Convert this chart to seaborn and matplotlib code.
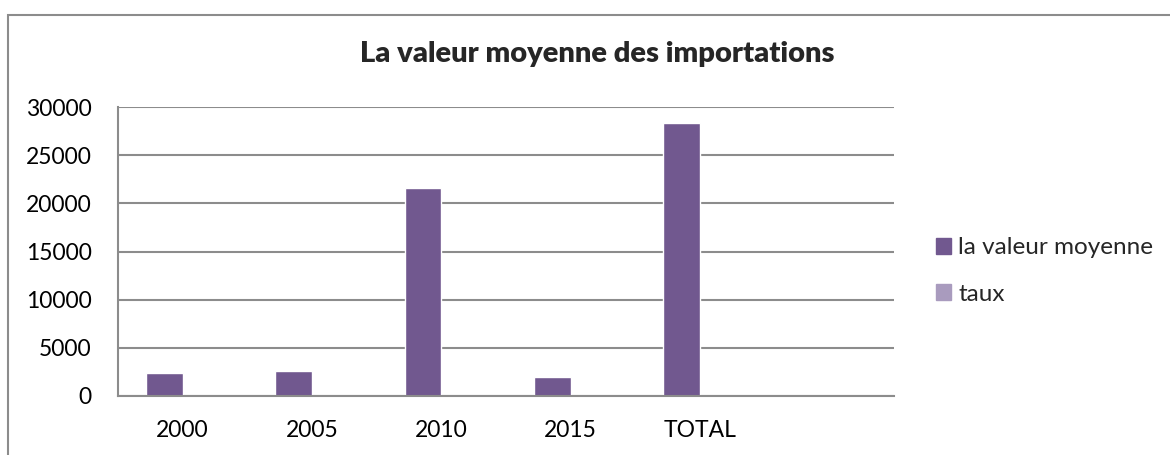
import pandas as pd
import numpy as np
import matplotlib
matplotlib.use("Agg")
import matplotlib.pyplot as plt
import matplotlib.patches as mpatches
import seaborn as sns

# données
annees = ["2000", "2005", "2010", "2015", "TOTAL"]
valeur_moyenne = [2360, 2570, 21600, 1970, 28330]
taux = [0, 0, 0, 0, 0]  # trop petit pour etre visible
series = ["la valeur moyenne", "taux"]
couleurs = ["#71588F", "#A99BBE"]
y_ticks = [0, 5000, 10000, 15000, 20000, 25000, 30000]

df = pd.DataFrame({
    "annee": annees * 2,
    "valeur": valeur_moyenne + taux,
    "serie": [series[0]] * len(annees) + [series[1]] * len(annees),
})

sns.set_style("white")
plt.rcParams["font.family"] = ["Lato", "DejaVu Sans"]

W, H = 1170, 455
fig = plt.figure(figsize=(W / 100, H / 100), dpi=100)
ax = fig.add_axes([118 / W, 1 - 396 / H, 776 / W, 289 / H])

sns.barplot(data=df, x="annee", y="valeur", hue="serie", order=annees,
            hue_order=series, palette=couleurs, width=0.567, saturation=1,
            errorbar=None, ax=ax, legend=False)

ax.set_xlim(-0.5, 5.5)
ax.set_ylim(0, 30000)
ax.set_yticks(y_ticks)
ax.set_yticklabels([str(v) for v in y_ticks])
ax.set_xlabel("")
ax.set_ylabel("")
ax.yaxis.grid(True, color="#8C8C8C", linewidth=1.5)
ax.set_axisbelow(True)
for s in ["top", "right"]:
    ax.spines[s].set_visible(False)
for s in ["left", "bottom"]:
    ax.spines[s].set_color("#8C8C8C")
    ax.spines[s].set_linewidth(1.5)
ax.tick_params(axis="both", length=0, labelsize=16.5, colors="black")
ax.tick_params(axis="y", pad=19)
ax.tick_params(axis="x", pad=17)

fig.text(597 / W, 1 - 54 / H, "La valeur moyenne des importations",
         ha="center", va="center", fontsize=21, fontweight="heavy")

# légende
handles = [mpatches.Patch(color=c, label=l) for c, l in zip(couleurs, series)]
fig.legend(handles=handles, loc="center left",
           bbox_to_anchor=(914 / W, 1 - 271 / H), frameon=False,
           fontsize=17.5, handlelength=0.62, handleheight=0.62,
           handletextpad=0.3, labelspacing=1.05)

# cadre du graphique
fig.patches.append(mpatches.Rectangle((8 / W, -0.1), 1.2, 1 - 15 / H + 0.1,
                                      transform=fig.transFigure, fill=False,
                                      edgecolor="#8C8C8C", linewidth=1.5))

fig.savefig("out.png", dpi=100)
